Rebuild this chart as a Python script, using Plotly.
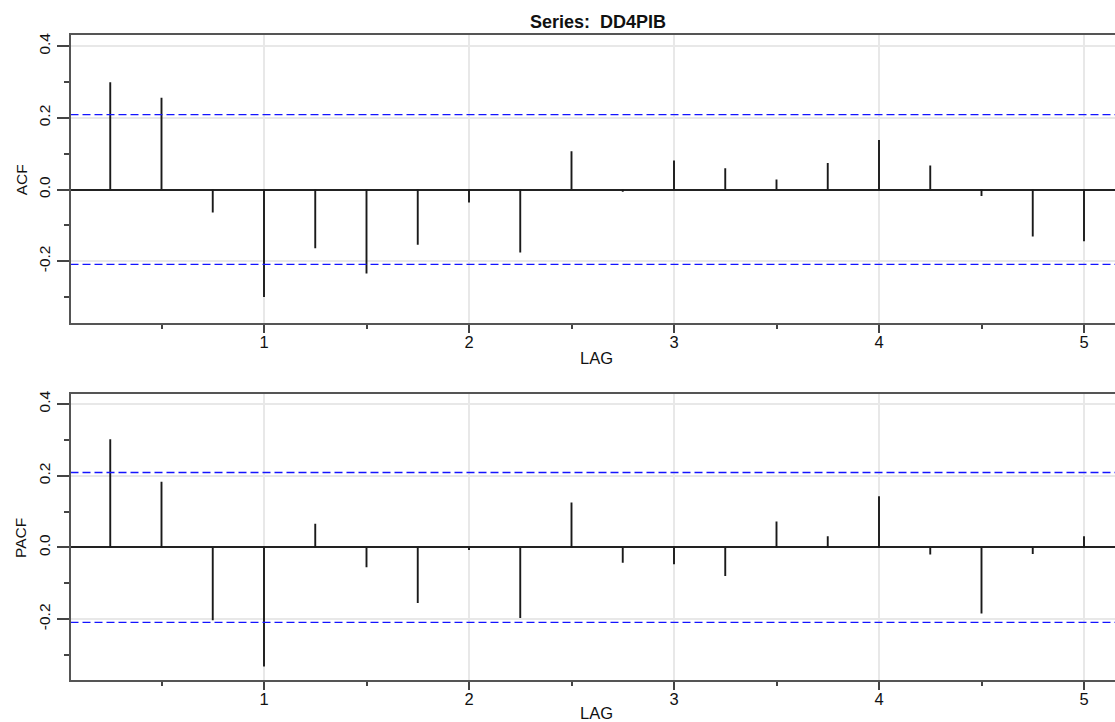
import plotly.graph_objects as go

lags = [0.25, 0.5, 0.75, 1.0, 1.25, 1.5, 1.75, 2.0, 2.25, 2.5,
        2.75, 3.0, 3.25, 3.5, 3.75, 4.0, 4.25, 4.5, 4.75, 5.0]
acf = [0.299, 0.256, -0.064, -0.300, -0.164, -0.234, -0.154, -0.036, -0.176, 0.107,
       -0.006, 0.081, 0.059, 0.028, 0.074, 0.138, 0.067, -0.018, -0.131, -0.144]
pacf = [0.302, 0.183, -0.203, -0.332, 0.066, -0.055, -0.155, -0.007, -0.197, 0.125,
        -0.043, -0.047, -0.080, 0.072, 0.031, 0.143, -0.020, -0.184, -0.018, 0.031]
conf = 0.209
title = "Series:\u00a0 DD4PIB"
ylabels = ["ACF", "PACF"]
xlabel = "LAG"
ytick_vals = [-0.2, 0.0, 0.2, 0.4]
ytick_text = ["-0.2", "0.0", "0.2", "0.4"]
yminor = [-0.3, -0.1, 0.1, 0.3]
xtick_vals = [1, 2, 3, 4, 5]
xtick_text = ["1", "2", "3", "4", "5"]
xminor = [0.5, 1.5, 2.5, 3.5, 4.5]

W, H = 1115, 722
FONT = "Liberation Sans, Arial, sans-serif"

fig = go.Figure()

def spikes(vals):
    xs, ys = [], []
    for l, v in zip(lags, vals):
        xs += [l, l, None]
        ys += [0, v, None]
    return xs, ys

panels = [
    dict(vals=acf, top=32.3, bot=321.7, zero=187.3, lag_y=356),
    dict(vals=pacf, top=392.3, bot=680.0, zero=546.7, lag_y=713),
]

x_left_px = 70.5
x_range = [1 + (x_left_px - 264) / 205.0, 1 + (W - 264) / 205.0]

for i, p in enumerate(panels):
    suffix = "" if i == 0 else "2"
    xa, ya = "x" + suffix, "y" + suffix
    xs, ys = spikes(p["vals"])
    fig.add_trace(go.Scatter(x=xs, y=ys, mode="lines", xaxis=xa, yaxis=ya,
                             line=dict(color="#1a1a1a", width=1.9), hoverinfo="skip",
                             showlegend=False))
    for c in (conf, -conf):
        fig.add_trace(go.Scatter(x=x_range, y=[c, c], mode="lines", xaxis=xa, yaxis=ya,
                                 line=dict(color="#1414ff", width=1.3, dash="8px,4px"),
                                 hoverinfo="skip", showlegend=False))
    ydom = [1 - p["bot"] / H, 1 - p["top"] / H]
    fig.layout["xaxis" + suffix] = dict(
        domain=[x_left_px / W, 1], range=x_range, anchor=ya,
        tickmode="array", tickvals=xtick_vals, ticktext=xtick_text,
        ticks="outside", ticklen=8, tickwidth=1.5, tickcolor="#444",
        ticklabelstandoff=-5,
        minor=dict(tickvals=xminor, ticks="outside", ticklen=4, tickwidth=1.5,
                   tickcolor="#444", showgrid=False),
        showgrid=True, gridcolor="#e8e8e8", gridwidth=1.5,
        showline=True, linecolor="#555", linewidth=2, mirror=True,
        zeroline=False, tickfont=dict(family=FONT, size=16.5, color="#111"),
        fixedrange=True,
    )
    fig.layout["yaxis" + suffix] = dict(
        domain=ydom,
        range=[-(p["bot"] - p["zero"]) / 360.0, (p["zero"] - p["top"]) / 360.0],
        anchor=xa,
        tickmode="array", tickvals=ytick_vals, ticktext=ytick_text,
        ticks="outside", ticklen=12, tickwidth=1.5, tickcolor="#444",
        minor=dict(tickvals=yminor, ticks="outside", ticklen=5, tickwidth=1.5,
                   tickcolor="#444", showgrid=False),
        showgrid=True, gridcolor="#e8e8e8", gridwidth=1.5,
        showline=True, linecolor="#555", linewidth=2, mirror=False,
        zeroline=True, zerolinecolor="#222", zerolinewidth=1.5,
        tickangle=-90, tickfont=dict(family=FONT, size=15.5, color="#111"),
        fixedrange=True,
    )

ann = []
ann.append(dict(text="<b>" + title + "</b>", x=598 / W, y=1 - 19 / H, xref="paper", yref="paper",
                showarrow=False, font=dict(family=FONT, size=18, color="#111"),
                xanchor="center", yanchor="middle"))
for i, p in enumerate(panels):
    mid = (p["top"] + p["bot"]) / 2
    ann.append(dict(text=ylabels[i], x=21 / W, y=1 - (mid + 1) / H, xref="paper", yref="paper",
                    showarrow=False, textangle=-90, font=dict(family=FONT, size=15.5, color="#111"),
                    xanchor="center", yanchor="middle"))
    ann.append(dict(text=xlabel, x=597 / W, y=1 - p["lag_y"] / H, xref="paper", yref="paper",
                    showarrow=False, font=dict(family=FONT, size=16.5, color="#111"),
                    xanchor="center", yanchor="middle"))

fig.update_layout(width=W, height=H, margin=dict(l=0, r=0, t=0, b=0),
                  paper_bgcolor="white", plot_bgcolor="white", annotations=ann,
                  showlegend=False)

fig.write_html("out.html", config={"displayModeBar": False})
